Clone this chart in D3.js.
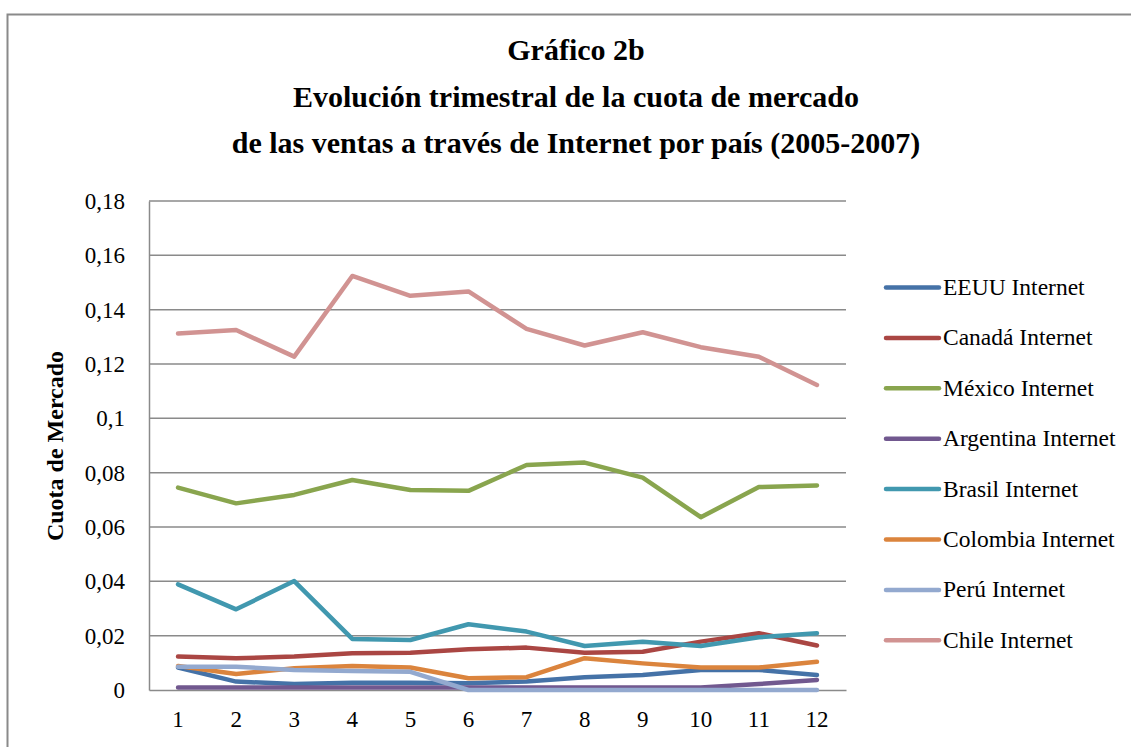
<!DOCTYPE html>
<html>
<head>
<meta charset="utf-8">
<script src="https://cdnjs.cloudflare.com/ajax/libs/d3/7.8.5/d3.min.js"></script>
<style>
  body { margin: 0; background: #fff; }
  svg { display: block; font-family: "Liberation Serif", "Times New Roman", serif; }
</style>
</head>
<body>
<div id="chart"></div>
<script>
var width = 1131;
var height = 747;

// quarters 1..12 (2005-2007)
var quarters = [1, 2, 3, 4, 5, 6, 7, 8, 9, 10, 11, 12];
var yTicks = [0, 0.02, 0.04, 0.06, 0.08, 0.1, 0.12, 0.14, 0.16, 0.18];

var seriesNames = ["EEUU Internet", "Canadá Internet", "México Internet", "Argentina Internet",
    "Brasil Internet", "Colombia Internet", "Perú Internet", "Chile Internet"];
var seriesColors = ["#4572A7", "#AA4643", "#89A54E", "#71588F", "#4198AF", "#DB843D", "#93A9CF", "#D19392"];

var eeuu      = [0.0083, 0.0031, 0.0022, 0.0027, 0.0027, 0.0025, 0.0031, 0.0047, 0.0055, 0.0074, 0.0074, 0.0055];
var canada    = [0.0123, 0.0117, 0.0123, 0.0135, 0.0137, 0.0150, 0.0156, 0.0137, 0.0141, 0.0178, 0.0209, 0.0164];
var mexico    = [0.0745, 0.0687, 0.0718, 0.0773, 0.0736, 0.0733, 0.0828, 0.0837, 0.0782, 0.0636, 0.0747, 0.0753];
var argentina = [0.0009, 0.0009, 0.0009, 0.0009, 0.0009, 0.0009, 0.0009, 0.0009, 0.0009, 0.0009, 0.0022, 0.0037];
var brasil    = [0.0389, 0.0297, 0.0401, 0.0188, 0.0184, 0.0242, 0.0215, 0.0162, 0.0178, 0.0162, 0.0194, 0.0209];
var colombia  = [0.0088, 0.0059, 0.0080, 0.0088, 0.0083, 0.0043, 0.0047, 0.0117, 0.0098, 0.0083, 0.0083, 0.0104];
var peru      = [0.0086, 0.0086, 0.0074, 0.0070, 0.0067, 0.0000, 0.0000, 0.0000, 0.0000, 0.0000, 0.0000, 0.0000];
var chile     = [0.1312, 0.1325, 0.1227, 0.1524, 0.1451, 0.1467, 0.1329, 0.1268, 0.1317, 0.1262, 0.1227, 0.1123];

var seriesValues = [eeuu, canada, mexico, argentina, brasil, colombia, peru, chile];

var titleLines = ["Gráfico 2b",
    "Evolución trimestral de la cuota de mercado",
    "de las ventas a través de Internet por país (2005-2007)"];

var plot = {left: 149, right: 846, top: 201, bottom: 690};

var svg = d3.select("#chart").append("svg")
    .attr("width", width)
    .attr("height", height);

/* outer frame */
svg.append("rect")
    .attr("x", 7.5)
    .attr("y", 14.5)
    .attr("width", width + 20)
    .attr("height", height + 20)
    .attr("fill", "none")
    .attr("stroke", "#8a8a8a")
    .attr("stroke-width", 2);

/* title */
svg.append("g").selectAll("text")
    .data(titleLines)
    .enter().append("text")
    .attr("x", 576)
    .attr("y", function (d, i) { return 60 + i * 46.5; })
    .attr("text-anchor", "middle")
    .attr("font-weight", "bold")
    .attr("font-size", 30)
    .text(function (d) { return d; });

var x = d3.scaleBand()
    .domain(quarters)
    .range([plot.left, plot.right]);

var y = d3.scaleLinear()
    .domain([0, 0.18])
    .range([plot.bottom, plot.top]);

// gridlines
svg.append("g").selectAll("line")
    .data(yTicks.slice(1))
    .enter().append("line")
    .attr("x1", plot.left)
    .attr("x2", plot.right)
    .attr("y1", function (d) { return y(d); })
    .attr("y2", function (d) { return y(d); })
    .attr("stroke", "#8a8a8a")
    .attr("stroke-width", 1.5);

// y axis
var yAxis = svg.append("g")
    .attr("transform", "translate(" + plot.left + ",0)")
    .call(d3.axisLeft(y).tickValues(yTicks).tickSize(0).tickPadding(24)
        .tickFormat(function (d) { return d3.format(".2~f")(d).replace(".", ","); }));
yAxis.select(".domain").attr("stroke", "#8a8a8a").attr("stroke-width", 1.5);
yAxis.selectAll("text")
    .attr("font-family", "Liberation Serif, serif")
    .attr("font-size", 23)
    .attr("fill", "#000");

// x axis
var xAxis = svg.append("g")
    .attr("transform", "translate(0," + plot.bottom + ")")
    .call(d3.axisBottom(x).tickSize(0).tickPadding(21));
xAxis.select(".domain").attr("stroke", "#8a8a8a").attr("stroke-width", 1.5);
xAxis.selectAll("text")
    .attr("font-family", "Liberation Serif, serif")
    .attr("font-size", 23)
    .attr("fill", "#000");

// y axis title
svg.append("text")
    .attr("transform", "translate(63,446) rotate(-90)")
    .attr("text-anchor", "middle")
    .attr("font-weight", "bold")
    .attr("font-size", 24)
    .text("Cuota de Mercado");

var line = d3.line()
    .x(function (d, i) { return x(quarters[i]) + x.bandwidth() / 2; })
    .y(function (d) { return y(d); });

/* series lines */
svg.append("g").selectAll("path")
    .data(seriesValues)
    .enter().append("path")
    .attr("d", line)
    .attr("fill", "none")
    .attr("stroke", function (d, i) { return seriesColors[i]; })
    .attr("stroke-width", 4.5)
    .attr("stroke-linejoin", "round")
    .attr("stroke-linecap", "round");

/* legend */
var legend = svg.append("g").selectAll("g")
    .data(seriesNames)
    .enter().append("g")
    .attr("transform", function (d, i) { return "translate(886," + (287.5 + i * 50.4) + ")"; });

legend.append("line")
    .attr("x1", 0)
    .attr("x2", 53)
    .attr("stroke", function (d, i) { return seriesColors[i]; })
    .attr("stroke-width", 4.5)
    .attr("stroke-linecap", "round");

legend.append("text")
    .attr("x", 57)
    .attr("y", 7.5)
    .attr("font-size", 23.5)
    .text(function (d) { return d; });
</script>
</body>
</html>
